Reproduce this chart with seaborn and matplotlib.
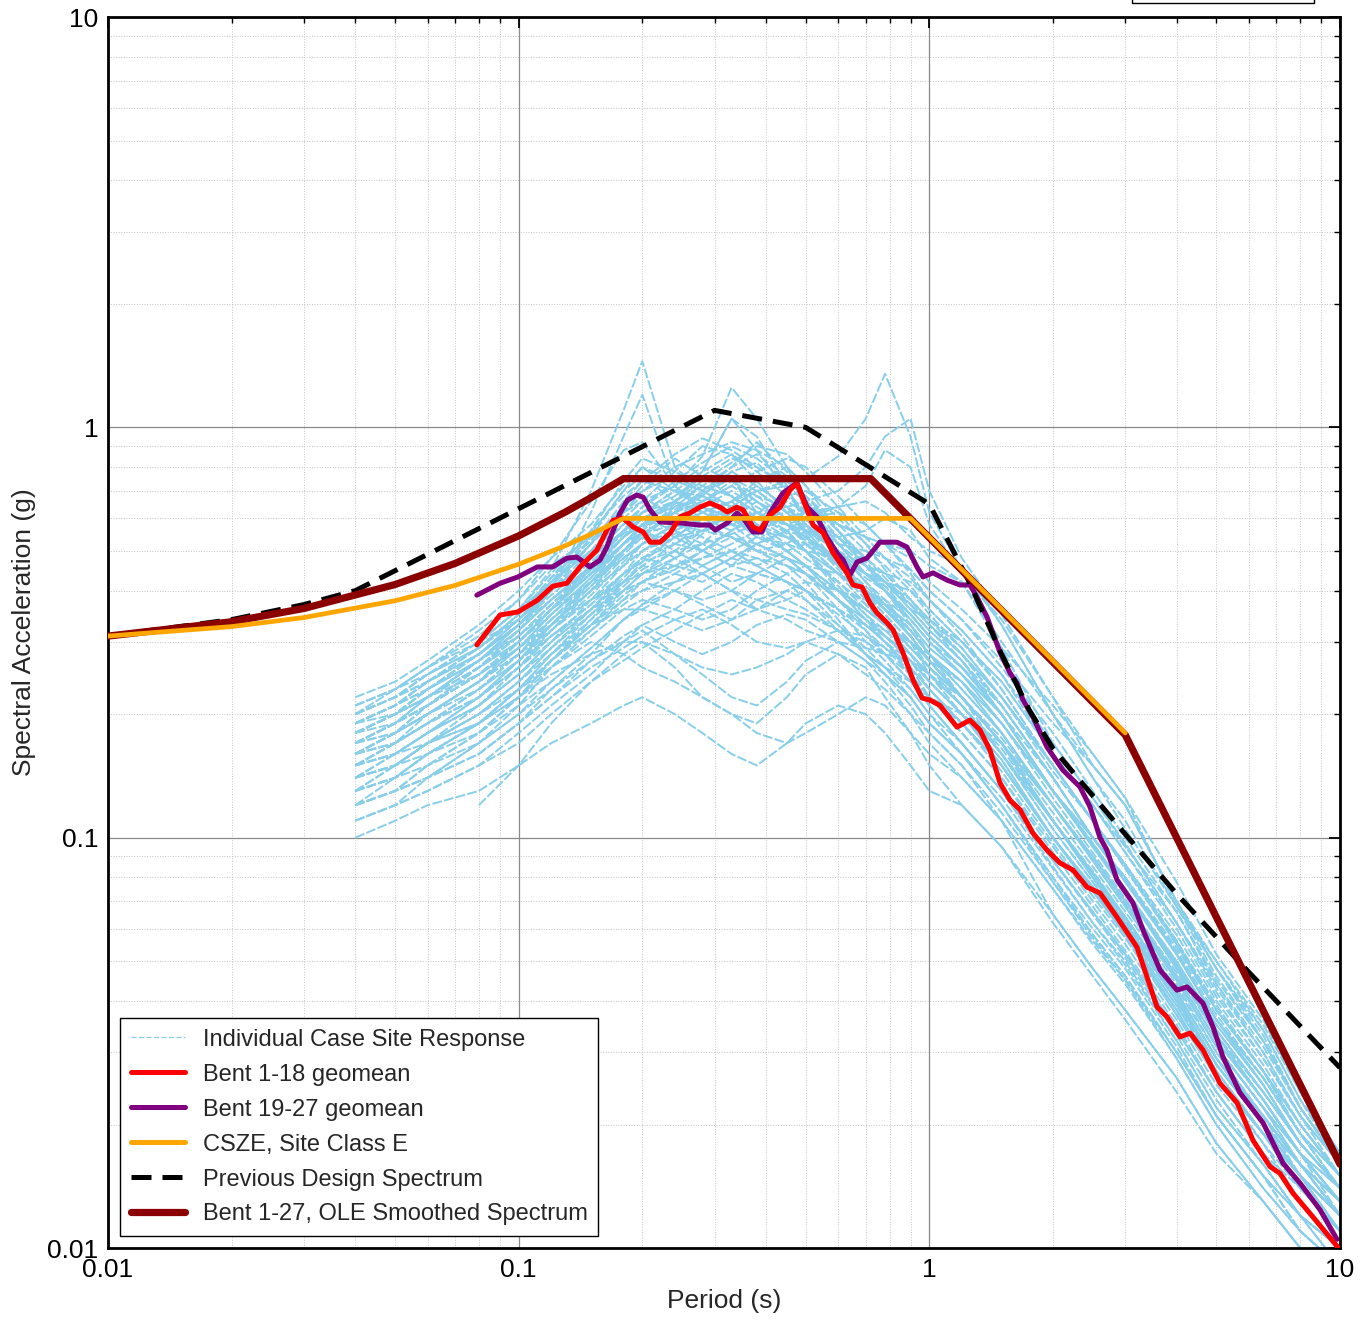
import numpy as np
import pandas as pd
import matplotlib
matplotlib.use("Agg")
import matplotlib.pyplot as plt
from matplotlib.lines import Line2D
from matplotlib.patches import Rectangle
from matplotlib.ticker import LogLocator, NullFormatter
import seaborn as sns

sns.set_theme(style="white")
plt.rcParams["font.family"] = ["Liberation Sans", "DejaVu Sans"]

# ---------------------------------------------------------------- data
nan = np.nan

# periods shared by the individual site-response cases (s)
case_periods = [0.04, 0.05, 0.06, 0.08, 0.1, 0.12, 0.15, 0.18, 0.2, 0.24,
                0.28, 0.33, 0.38, 0.45, 0.5, 0.6, 0.7, 0.78, 0.9, 1.0,
                1.2, 1.5, 2.0, 2.5, 3.0, 4.0, 5.0, 6.5, 8.0, 10.0]

case_01 = [0.20, 0.22, 0.25, 0.30, 0.36, 0.45, 0.70, 1.10, 1.45, 0.80, 0.70, 0.75, 0.62, 0.55, 0.50, 0.42, 0.36, 0.33, 0.28, 0.24, 0.20, 0.15, 0.10, 0.075, 0.058, 0.038, 0.026, 0.019, 0.015, 0.012]
case_02 = [0.16, 0.18, 0.21, 0.26, 0.32, 0.40, 0.62, 0.95, 1.20, 0.72, 0.62, 0.66, 0.58, 0.50, 0.46, 0.38, 0.33, 0.30, 0.25, 0.21, 0.17, 0.13, 0.088, 0.066, 0.052, 0.034, 0.024, 0.017, 0.014, 0.011]
case_03 = [0.19, 0.21, 0.24, 0.29, 0.35, 0.42, 0.50, 0.60, 0.66, 0.72, 0.85, 1.25, 1.05, 0.80, 0.65, 0.52, 0.44, 0.40, 0.33, 0.28, 0.22, 0.17, 0.11, 0.082, 0.064, 0.042, 0.029, 0.021, 0.016, 0.013]
case_04 = [0.15, 0.17, 0.19, 0.23, 0.28, 0.34, 0.42, 0.52, 0.58, 0.65, 0.78, 1.05, 0.95, 0.72, 0.58, 0.46, 0.39, 0.35, 0.30, 0.25, 0.20, 0.15, 0.10, 0.075, 0.058, 0.037, 0.026, 0.019, 0.015, 0.012]
case_05 = [0.18, 0.20, 0.23, 0.28, 0.33, 0.38, 0.45, 0.52, 0.55, 0.58, 0.62, 0.66, 0.70, 0.72, 0.75, 0.85, 1.05, 1.35, 0.95, 0.62, 0.45, 0.33, 0.20, 0.14, 0.11, 0.068, 0.048, 0.033, 0.022, 0.016]
case_06 = [0.16, 0.18, 0.20, 0.24, 0.28, 0.33, 0.40, 0.46, 0.50, 0.55, 0.58, 0.60, 0.62, 0.64, 0.66, 0.70, 0.80, 0.95, 1.05, 0.70, 0.48, 0.35, 0.22, 0.15, 0.12, 0.070, 0.050, 0.034, 0.023, 0.017]
case_07 = [0.10, 0.11, 0.12, 0.13, 0.15, 0.17, 0.19, 0.21, 0.22, 0.20, 0.18, 0.16, 0.15, 0.17, 0.19, 0.21, 0.20, 0.18, 0.15, 0.13, 0.12, 0.095, 0.062, 0.046, 0.036, 0.024, 0.017, 0.013, 0.010, 0.008]
case_08 = [0.12, 0.13, 0.14, 0.16, 0.19, 0.22, 0.27, 0.30, 0.32, 0.28, 0.25, 0.22, 0.21, 0.24, 0.27, 0.30, 0.27, 0.24, 0.20, 0.17, 0.14, 0.11, 0.075, 0.056, 0.045, 0.030, 0.021, 0.015, 0.012, 0.010]
case_09 = [0.17, 0.19, 0.21, 0.25, 0.29, 0.33, 0.38, 0.42, 0.44, 0.46, 0.48, 0.50, 0.48, 0.46, 0.44, 0.38, 0.33, 0.30, 0.26, 0.23, 0.19, 0.15, 0.10, 0.075, 0.060, 0.040, 0.028, 0.020, 0.016, 0.013]
case_10 = [0.20, 0.22, 0.25, 0.30, 0.36, 0.42, 0.50, 0.58, 0.62, 0.66, 0.60, 0.64, 0.70, 0.62, 0.55, 0.45, 0.38, 0.34, 0.29, 0.26, 0.22, 0.17, 0.12, 0.090, 0.070, 0.046, 0.032, 0.023, 0.017, 0.014]
case_11 = [0.14, 0.16, 0.18, 0.22, 0.26, 0.31, 0.37, 0.44, 0.48, 0.52, 0.56, 0.54, 0.50, 0.52, 0.56, 0.50, 0.42, 0.37, 0.31, 0.27, 0.22, 0.16, 0.11, 0.080, 0.062, 0.040, 0.027, 0.019, 0.015, 0.012]
case_12 = [0.22, 0.24, 0.27, 0.33, 0.40, 0.48, 0.58, 0.72, 0.80, 0.70, 0.68, 0.78, 0.82, 0.70, 0.62, 0.50, 0.42, 0.38, 0.32, 0.28, 0.23, 0.18, 0.12, 0.090, 0.070, 0.045, 0.031, 0.022, 0.017, 0.014]
case_13 = [0.17, 0.19, 0.22, 0.27, 0.31, 0.36, 0.42, 0.48, 0.52, 0.56, 0.60, 0.62, 0.60, 0.58, 0.56, 0.52, 0.50, 0.48, 0.45, 0.40, 0.34, 0.27, 0.19, 0.15, 0.12, 0.070, 0.048, 0.032, 0.022, 0.016]
case_14 = [0.13, 0.15, 0.17, 0.20, 0.24, 0.28, 0.33, 0.38, 0.40, 0.42, 0.44, 0.40, 0.36, 0.38, 0.40, 0.36, 0.32, 0.28, 0.24, 0.21, 0.17, 0.13, 0.085, 0.062, 0.050, 0.032, 0.022, 0.016, 0.012, 0.010]
case_15 = [0.19, 0.21, 0.23, 0.27, 0.32, 0.38, 0.46, 0.54, 0.58, 0.62, 0.66, 0.72, 0.66, 0.60, 0.52, 0.44, 0.40, 0.38, 0.34, 0.30, 0.25, 0.19, 0.13, 0.095, 0.074, 0.050, 0.035, 0.025, 0.018, 0.014]
case_16 = [nan, nan, nan, 0.12, 0.15, 0.19, 0.24, 0.28, 0.30, 0.26, 0.22, 0.20, 0.19, 0.22, 0.25, 0.28, 0.26, 0.22, 0.18, 0.15, 0.12, 0.095, 0.065, 0.048, 0.038, 0.026, 0.018, 0.013, 0.010, 0.008]
case_17 = [0.18, 0.20, 0.22, 0.26, 0.30, 0.36, 0.44, 0.52, 0.56, 0.52, 0.50, 0.56, 0.60, 0.66, 0.62, 0.54, 0.46, 0.40, 0.34, 0.30, 0.26, 0.21, 0.14, 0.10, 0.078, 0.052, 0.036, 0.025, 0.018, 0.014]
case_18 = [0.15, 0.17, 0.19, 0.23, 0.27, 0.33, 0.40, 0.48, 0.52, 0.58, 0.62, 0.58, 0.52, 0.48, 0.44, 0.36, 0.30, 0.27, 0.23, 0.20, 0.16, 0.12, 0.080, 0.060, 0.048, 0.031, 0.021, 0.015, 0.012, 0.009]
case_19 = [0.21, 0.23, 0.26, 0.31, 0.38, 0.48, 0.66, 0.88, 0.92, 0.72, 0.64, 0.60, 0.55, 0.50, 0.46, 0.40, 0.35, 0.32, 0.28, 0.25, 0.21, 0.16, 0.11, 0.080, 0.062, 0.041, 0.028, 0.020, 0.016, 0.012]
case_20 = [0.11, 0.12, 0.14, 0.17, 0.21, 0.26, 0.32, 0.38, 0.42, 0.48, 0.55, 0.62, 0.68, 0.60, 0.54, 0.46, 0.40, 0.36, 0.32, 0.28, 0.24, 0.18, 0.12, 0.088, 0.068, 0.045, 0.031, 0.022, 0.016, 0.013]
case_21 = [0.16, 0.18, 0.20, 0.24, 0.28, 0.32, 0.38, 0.44, 0.47, 0.50, 0.52, 0.55, 0.58, 0.60, 0.62, 0.64, 0.72, 0.88, 0.80, 0.58, 0.44, 0.34, 0.22, 0.16, 0.125, 0.078, 0.052, 0.036, 0.024, 0.017]
case_22 = [0.18, 0.20, 0.23, 0.28, 0.33, 0.40, 0.48, 0.56, 0.60, 0.58, 0.56, 0.58, 0.60, 0.62, 0.64, 0.58, 0.54, 0.52, 0.50, 0.46, 0.42, 0.30, 0.20, 0.15, 0.12, 0.070, 0.048, 0.034, 0.023, 0.016]
case_23 = [0.13, 0.14, 0.16, 0.19, 0.23, 0.28, 0.34, 0.40, 0.44, 0.50, 0.46, 0.42, 0.44, 0.48, 0.46, 0.40, 0.36, 0.33, 0.30, 0.27, 0.22, 0.17, 0.11, 0.080, 0.064, 0.043, 0.030, 0.021, 0.016, 0.012]
case_24 = [0.14, 0.15, 0.17, 0.20, 0.23, 0.26, 0.30, 0.28, 0.26, 0.24, 0.22, 0.20, 0.18, 0.17, 0.18, 0.20, 0.22, 0.21, 0.18, 0.16, 0.14, 0.11, 0.075, 0.055, 0.044, 0.029, 0.020, 0.014, 0.011, 0.009]
case_25 = [0.20, 0.23, 0.26, 0.32, 0.38, 0.46, 0.54, 0.62, 0.66, 0.78, 0.90, 0.86, 0.74, 0.62, 0.56, 0.46, 0.40, 0.36, 0.31, 0.27, 0.22, 0.17, 0.11, 0.082, 0.064, 0.042, 0.029, 0.021, 0.016, 0.013]
case_26 = [nan, nan, nan, 0.30, 0.34, 0.40, 0.48, 0.56, 0.60, 0.64, 0.68, 0.64, 0.58, 0.54, 0.50, 0.44, 0.40, 0.37, 0.33, 0.29, 0.25, 0.20, 0.13, 0.10, 0.078, 0.052, 0.036, 0.026, 0.019, 0.015]
case_27 = [0.16, 0.18, 0.20, 0.24, 0.28, 0.33, 0.40, 0.46, 0.50, 0.54, 0.56, 0.58, 0.56, 0.54, 0.52, 0.48, 0.44, 0.42, 0.40, 0.36, 0.30, 0.24, 0.16, 0.12, 0.095, 0.066, 0.044, 0.030, 0.021, 0.015]
case_28 = [0.12, 0.13, 0.15, 0.18, 0.22, 0.27, 0.33, 0.36, 0.36, 0.34, 0.32, 0.34, 0.38, 0.40, 0.38, 0.33, 0.29, 0.26, 0.22, 0.19, 0.16, 0.12, 0.080, 0.058, 0.046, 0.030, 0.021, 0.015, 0.011, 0.009]
case_29 = [0.17, 0.19, 0.21, 0.25, 0.30, 0.36, 0.44, 0.52, 0.58, 0.66, 0.78, 1.05, 0.88, 0.70, 0.60, 0.48, 0.40, 0.36, 0.31, 0.27, 0.22, 0.17, 0.11, 0.082, 0.063, 0.041, 0.028, 0.020, 0.016, 0.012]
case_30 = [0.15, 0.16, 0.18, 0.21, 0.25, 0.30, 0.36, 0.42, 0.46, 0.44, 0.42, 0.46, 0.52, 0.56, 0.50, 0.40, 0.34, 0.30, 0.26, 0.22, 0.18, 0.14, 0.095, 0.070, 0.055, 0.036, 0.025, 0.018, 0.014, 0.011]
case_31 = [0.18, 0.19, 0.22, 0.27, 0.33, 0.40, 0.52, 0.62, 0.68, 0.60, 0.66, 0.74, 0.66, 0.58, 0.52, 0.44, 0.37, 0.33, 0.28, 0.25, 0.21, 0.16, 0.105, 0.078, 0.061, 0.040, 0.028, 0.020, 0.015, 0.012]
case_32 = [0.15, 0.17, 0.20, 0.24, 0.30, 0.36, 0.46, 0.56, 0.62, 0.70, 0.64, 0.58, 0.62, 0.56, 0.50, 0.41, 0.35, 0.31, 0.27, 0.23, 0.19, 0.145, 0.097, 0.072, 0.057, 0.037, 0.026, 0.019, 0.014, 0.011]
case_33 = [0.19, 0.21, 0.24, 0.28, 0.33, 0.39, 0.47, 0.55, 0.60, 0.56, 0.52, 0.60, 0.66, 0.58, 0.53, 0.47, 0.41, 0.37, 0.32, 0.28, 0.23, 0.18, 0.12, 0.088, 0.068, 0.045, 0.031, 0.022, 0.017, 0.013]
case_34 = [0.14, 0.16, 0.18, 0.21, 0.25, 0.30, 0.38, 0.46, 0.52, 0.58, 0.54, 0.50, 0.46, 0.42, 0.40, 0.35, 0.31, 0.28, 0.24, 0.21, 0.17, 0.13, 0.088, 0.066, 0.052, 0.034, 0.024, 0.017, 0.013, 0.010]
case_35 = [0.16, 0.18, 0.21, 0.26, 0.31, 0.37, 0.44, 0.50, 0.56, 0.64, 0.72, 0.68, 0.60, 0.56, 0.54, 0.48, 0.43, 0.40, 0.35, 0.31, 0.26, 0.20, 0.13, 0.095, 0.074, 0.048, 0.033, 0.024, 0.018, 0.014]
case_36 = [0.13, 0.15, 0.17, 0.20, 0.24, 0.29, 0.35, 0.41, 0.45, 0.50, 0.56, 0.62, 0.58, 0.52, 0.48, 0.42, 0.37, 0.34, 0.29, 0.26, 0.21, 0.16, 0.11, 0.080, 0.062, 0.041, 0.028, 0.020, 0.015, 0.012]
case_37 = [0.20, 0.22, 0.24, 0.28, 0.34, 0.42, 0.55, 0.70, 0.76, 0.66, 0.58, 0.54, 0.50, 0.48, 0.46, 0.40, 0.34, 0.31, 0.27, 0.24, 0.20, 0.155, 0.10, 0.076, 0.059, 0.039, 0.027, 0.019, 0.015, 0.011]
case_38 = [0.17, 0.18, 0.20, 0.23, 0.27, 0.31, 0.36, 0.40, 0.42, 0.45, 0.50, 0.56, 0.62, 0.68, 0.70, 0.62, 0.52, 0.45, 0.38, 0.33, 0.27, 0.20, 0.13, 0.096, 0.075, 0.049, 0.034, 0.024, 0.018, 0.014]
case_39 = [0.12, 0.14, 0.16, 0.19, 0.23, 0.28, 0.35, 0.42, 0.47, 0.54, 0.60, 0.66, 0.72, 0.64, 0.56, 0.46, 0.39, 0.35, 0.30, 0.26, 0.22, 0.17, 0.11, 0.082, 0.064, 0.042, 0.029, 0.021, 0.016, 0.012]
case_40 = [0.19, 0.20, 0.22, 0.25, 0.29, 0.34, 0.41, 0.49, 0.54, 0.62, 0.70, 0.80, 0.92, 0.78, 0.66, 0.52, 0.44, 0.40, 0.34, 0.30, 0.25, 0.19, 0.125, 0.092, 0.071, 0.046, 0.032, 0.023, 0.017, 0.013]
case_41 = [0.14, 0.15, 0.17, 0.21, 0.26, 0.32, 0.40, 0.50, 0.56, 0.50, 0.46, 0.50, 0.54, 0.50, 0.46, 0.40, 0.36, 0.33, 0.29, 0.26, 0.22, 0.175, 0.12, 0.088, 0.069, 0.046, 0.032, 0.023, 0.017, 0.013]
case_42 = [0.18, 0.20, 0.23, 0.27, 0.32, 0.38, 0.46, 0.54, 0.58, 0.62, 0.58, 0.54, 0.52, 0.56, 0.60, 0.62, 0.58, 0.52, 0.44, 0.38, 0.31, 0.23, 0.15, 0.11, 0.086, 0.056, 0.039, 0.027, 0.020, 0.015]
case_43 = [0.16, 0.17, 0.19, 0.22, 0.27, 0.33, 0.42, 0.50, 0.54, 0.48, 0.44, 0.40, 0.38, 0.36, 0.35, 0.32, 0.30, 0.28, 0.25, 0.22, 0.19, 0.15, 0.10, 0.074, 0.058, 0.038, 0.026, 0.019, 0.014, 0.011]
case_44 = [0.21, 0.23, 0.25, 0.29, 0.34, 0.40, 0.48, 0.58, 0.64, 0.72, 0.80, 0.74, 0.68, 0.64, 0.60, 0.52, 0.46, 0.42, 0.37, 0.33, 0.28, 0.21, 0.14, 0.10, 0.079, 0.052, 0.036, 0.026, 0.019, 0.015]
case_45 = [0.11, 0.12, 0.13, 0.15, 0.18, 0.21, 0.25, 0.30, 0.33, 0.36, 0.40, 0.44, 0.42, 0.38, 0.36, 0.32, 0.28, 0.26, 0.23, 0.20, 0.17, 0.13, 0.088, 0.065, 0.051, 0.033, 0.023, 0.016, 0.012, 0.010]
case_46 = [0.17, 0.19, 0.21, 0.25, 0.30, 0.35, 0.42, 0.48, 0.52, 0.58, 0.64, 0.70, 0.64, 0.58, 0.56, 0.54, 0.56, 0.60, 0.56, 0.48, 0.42, 0.29, 0.17, 0.125, 0.097, 0.062, 0.042, 0.029, 0.021, 0.016]
case_47 = [0.15, 0.17, 0.19, 0.23, 0.28, 0.34, 0.42, 0.50, 0.55, 0.62, 0.68, 0.62, 0.56, 0.50, 0.46, 0.38, 0.32, 0.29, 0.25, 0.22, 0.18, 0.14, 0.092, 0.068, 0.053, 0.035, 0.024, 0.017, 0.013, 0.010]
case_48 = [0.19, 0.21, 0.24, 0.29, 0.35, 0.43, 0.53, 0.64, 0.70, 0.76, 0.70, 0.64, 0.70, 0.74, 0.68, 0.56, 0.47, 0.42, 0.36, 0.32, 0.27, 0.20, 0.13, 0.097, 0.075, 0.049, 0.034, 0.024, 0.018, 0.014]
case_49 = [0.13, 0.14, 0.16, 0.19, 0.23, 0.27, 0.32, 0.37, 0.40, 0.44, 0.48, 0.52, 0.56, 0.60, 0.58, 0.50, 0.44, 0.40, 0.35, 0.31, 0.26, 0.20, 0.13, 0.095, 0.074, 0.048, 0.033, 0.023, 0.017, 0.013]
case_50 = [0.18, 0.20, 0.22, 0.26, 0.31, 0.37, 0.45, 0.54, 0.60, 0.66, 0.62, 0.66, 0.74, 0.80, 0.72, 0.56, 0.46, 0.41, 0.35, 0.31, 0.26, 0.20, 0.13, 0.096, 0.074, 0.048, 0.033, 0.023, 0.017, 0.013]
case_51 = [0.16, 0.17, 0.19, 0.22, 0.26, 0.30, 0.36, 0.43, 0.48, 0.46, 0.44, 0.48, 0.52, 0.48, 0.44, 0.38, 0.34, 0.32, 0.30, 0.28, 0.24, 0.19, 0.13, 0.096, 0.075, 0.050, 0.035, 0.025, 0.018, 0.014]
case_52 = [0.20, 0.22, 0.25, 0.29, 0.35, 0.42, 0.52, 0.64, 0.72, 0.84, 0.76, 0.68, 0.62, 0.58, 0.54, 0.46, 0.40, 0.36, 0.31, 0.27, 0.22, 0.17, 0.11, 0.083, 0.064, 0.042, 0.029, 0.021, 0.016, 0.012]
case_53 = [0.12, 0.13, 0.15, 0.18, 0.22, 0.27, 0.33, 0.40, 0.44, 0.48, 0.52, 0.48, 0.46, 0.50, 0.52, 0.46, 0.40, 0.36, 0.31, 0.27, 0.22, 0.17, 0.11, 0.082, 0.064, 0.042, 0.029, 0.020, 0.015, 0.012]
case_54 = [0.17, 0.19, 0.21, 0.25, 0.30, 0.36, 0.44, 0.52, 0.57, 0.63, 0.69, 0.75, 0.70, 0.62, 0.57, 0.50, 0.46, 0.44, 0.42, 0.38, 0.32, 0.25, 0.16, 0.12, 0.092, 0.060, 0.041, 0.029, 0.021, 0.016]
case_55 = [0.14, 0.15, 0.17, 0.20, 0.24, 0.29, 0.36, 0.44, 0.50, 0.56, 0.50, 0.46, 0.48, 0.44, 0.40, 0.33, 0.28, 0.25, 0.22, 0.19, 0.16, 0.125, 0.084, 0.062, 0.049, 0.032, 0.022, 0.016, 0.012, 0.009]
case_56 = [0.19, 0.21, 0.23, 0.27, 0.32, 0.38, 0.46, 0.56, 0.62, 0.70, 0.78, 0.86, 0.78, 0.68, 0.62, 0.54, 0.48, 0.44, 0.38, 0.34, 0.28, 0.21, 0.14, 0.10, 0.080, 0.052, 0.036, 0.026, 0.019, 0.015]
case_57 = [0.15, 0.16, 0.18, 0.22, 0.27, 0.32, 0.39, 0.47, 0.52, 0.58, 0.64, 0.60, 0.54, 0.52, 0.50, 0.48, 0.44, 0.42, 0.38, 0.34, 0.29, 0.22, 0.145, 0.11, 0.084, 0.055, 0.038, 0.027, 0.020, 0.015]
case_58 = [0.17, 0.18, 0.20, 0.24, 0.29, 0.35, 0.43, 0.52, 0.58, 0.54, 0.50, 0.46, 0.44, 0.42, 0.40, 0.36, 0.33, 0.30, 0.27, 0.24, 0.20, 0.155, 0.10, 0.076, 0.059, 0.039, 0.027, 0.019, 0.014, 0.011]
case_59 = [nan, nan, nan, 0.22, 0.27, 0.33, 0.41, 0.50, 0.55, 0.62, 0.70, 0.78, 0.72, 0.64, 0.58, 0.50, 0.44, 0.40, 0.35, 0.31, 0.26, 0.20, 0.13, 0.097, 0.075, 0.049, 0.034, 0.024, 0.018, 0.014]
case_60 = [nan, nan, nan, 0.18, 0.22, 0.27, 0.34, 0.42, 0.46, 0.52, 0.58, 0.64, 0.60, 0.54, 0.50, 0.44, 0.39, 0.36, 0.32, 0.28, 0.24, 0.18, 0.12, 0.088, 0.068, 0.045, 0.031, 0.022, 0.016, 0.013]
case_61 = [0.13, 0.14, 0.15, 0.17, 0.20, 0.23, 0.27, 0.31, 0.33, 0.30, 0.28, 0.30, 0.33, 0.35, 0.34, 0.30, 0.27, 0.25, 0.22, 0.19, 0.16, 0.12, 0.078, 0.057, 0.045, 0.029, 0.020, 0.014, 0.011, 0.009]
case_62 = [0.18, 0.20, 0.23, 0.28, 0.34, 0.41, 0.52, 0.66, 0.74, 0.86, 0.94, 0.88, 0.80, 0.72, 0.66, 0.56, 0.48, 0.43, 0.37, 0.33, 0.28, 0.22, 0.15, 0.11, 0.086, 0.058, 0.040, 0.028, 0.020, 0.015]
case_63 = [0.12, 0.13, 0.14, 0.16, 0.19, 0.22, 0.26, 0.29, 0.31, 0.34, 0.36, 0.33, 0.30, 0.29, 0.30, 0.28, 0.25, 0.23, 0.20, 0.18, 0.15, 0.11, 0.065, 0.048, 0.038, 0.026, 0.018, 0.013, 0.010, 0.008]
case_64 = [0.17, 0.19, 0.22, 0.27, 0.33, 0.41, 0.54, 0.70, 0.80, 0.74, 0.82, 0.90, 0.84, 0.74, 0.68, 0.58, 0.50, 0.46, 0.40, 0.35, 0.29, 0.22, 0.15, 0.11, 0.085, 0.056, 0.038, 0.027, 0.020, 0.015]
case_65 = [0.14, 0.15, 0.16, 0.18, 0.21, 0.24, 0.29, 0.34, 0.37, 0.40, 0.37, 0.34, 0.36, 0.40, 0.42, 0.40, 0.36, 0.33, 0.30, 0.27, 0.24, 0.19, 0.13, 0.10, 0.080, 0.054, 0.038, 0.027, 0.019, 0.014]
case_66 = [0.16, 0.18, 0.20, 0.24, 0.29, 0.35, 0.43, 0.52, 0.58, 0.66, 0.74, 0.82, 0.90, 0.86, 0.78, 0.64, 0.54, 0.48, 0.41, 0.36, 0.30, 0.23, 0.15, 0.11, 0.085, 0.055, 0.038, 0.027, 0.019, 0.014]
case_67 = [0.15, 0.16, 0.17, 0.19, 0.22, 0.25, 0.28, 0.30, 0.30, 0.28, 0.26, 0.25, 0.26, 0.28, 0.30, 0.32, 0.31, 0.29, 0.26, 0.23, 0.19, 0.15, 0.10, 0.074, 0.058, 0.038, 0.026, 0.018, 0.013, 0.010]
case_68 = [0.20, 0.22, 0.24, 0.28, 0.33, 0.40, 0.50, 0.62, 0.70, 0.80, 0.86, 0.92, 0.88, 0.80, 0.72, 0.60, 0.52, 0.48, 0.43, 0.38, 0.32, 0.25, 0.17, 0.125, 0.096, 0.062, 0.043, 0.030, 0.021, 0.016]
case_69 = [0.11, 0.12, 0.13, 0.15, 0.17, 0.20, 0.24, 0.27, 0.29, 0.32, 0.35, 0.38, 0.36, 0.34, 0.32, 0.30, 0.29, 0.28, 0.27, 0.25, 0.22, 0.17, 0.115, 0.085, 0.066, 0.044, 0.030, 0.021, 0.015, 0.011]
case_70 = [0.17, 0.19, 0.21, 0.25, 0.30, 0.36, 0.45, 0.56, 0.64, 0.74, 0.70, 0.64, 0.60, 0.58, 0.60, 0.64, 0.66, 0.62, 0.54, 0.50, 0.46, 0.33, 0.20, 0.14, 0.105, 0.068, 0.046, 0.032, 0.022, 0.016]
case_71 = [0.14, 0.15, 0.17, 0.19, 0.22, 0.26, 0.31, 0.36, 0.38, 0.36, 0.34, 0.36, 0.40, 0.44, 0.46, 0.44, 0.40, 0.37, 0.33, 0.29, 0.25, 0.20, 0.14, 0.10, 0.080, 0.053, 0.037, 0.026, 0.019, 0.014]
case_72 = [0.19, 0.21, 0.24, 0.29, 0.35, 0.43, 0.56, 0.74, 0.84, 0.78, 0.72, 0.80, 0.86, 0.76, 0.66, 0.54, 0.46, 0.42, 0.36, 0.32, 0.27, 0.21, 0.14, 0.10, 0.080, 0.052, 0.036, 0.025, 0.018, 0.014]
case_73 = [0.13, 0.14, 0.16, 0.19, 0.23, 0.27, 0.33, 0.39, 0.42, 0.46, 0.50, 0.54, 0.50, 0.46, 0.44, 0.40, 0.38, 0.37, 0.36, 0.34, 0.30, 0.24, 0.16, 0.12, 0.092, 0.062, 0.044, 0.031, 0.022, 0.016]
case_74 = [0.16, 0.17, 0.19, 0.22, 0.26, 0.31, 0.37, 0.44, 0.48, 0.54, 0.60, 0.56, 0.50, 0.46, 0.42, 0.34, 0.28, 0.25, 0.21, 0.18, 0.15, 0.115, 0.078, 0.058, 0.046, 0.030, 0.021, 0.015, 0.011, 0.009]
case_75 = [0.18, 0.20, 0.22, 0.26, 0.31, 0.37, 0.46, 0.56, 0.62, 0.68, 0.76, 0.84, 0.80, 0.72, 0.66, 0.58, 0.54, 0.52, 0.48, 0.42, 0.36, 0.29, 0.21, 0.16, 0.125, 0.068, 0.050, 0.035, 0.024, 0.017]
case_76 = [0.12, 0.13, 0.14, 0.17, 0.20, 0.24, 0.29, 0.34, 0.36, 0.40, 0.44, 0.48, 0.52, 0.48, 0.44, 0.38, 0.34, 0.31, 0.28, 0.25, 0.21, 0.16, 0.105, 0.078, 0.061, 0.040, 0.028, 0.020, 0.014, 0.011]
case_77 = [0.21, 0.23, 0.26, 0.30, 0.36, 0.44, 0.56, 0.68, 0.74, 0.70, 0.66, 0.72, 0.78, 0.84, 0.80, 0.68, 0.58, 0.52, 0.45, 0.40, 0.34, 0.26, 0.18, 0.13, 0.10, 0.066, 0.045, 0.032, 0.022, 0.016]
case_78 = [0.15, 0.16, 0.18, 0.21, 0.25, 0.29, 0.35, 0.40, 0.42, 0.40, 0.38, 0.40, 0.44, 0.42, 0.38, 0.32, 0.28, 0.26, 0.24, 0.22, 0.20, 0.17, 0.12, 0.090, 0.070, 0.047, 0.033, 0.023, 0.017, 0.012]
case_79 = [nan, nan, nan, 0.16, 0.19, 0.23, 0.28, 0.34, 0.37, 0.42, 0.46, 0.50, 0.46, 0.42, 0.40, 0.36, 0.33, 0.31, 0.28, 0.25, 0.21, 0.165, 0.11, 0.082, 0.064, 0.042, 0.029, 0.020, 0.015, 0.011]
case_80 = [nan, nan, nan, 0.26, 0.30, 0.36, 0.44, 0.54, 0.60, 0.66, 0.72, 0.68, 0.62, 0.58, 0.54, 0.48, 0.44, 0.41, 0.37, 0.33, 0.28, 0.22, 0.15, 0.11, 0.086, 0.056, 0.039, 0.027, 0.020, 0.015]

cases = [case_01, case_02, case_03, case_04, case_05, case_06, case_07, case_08,
         case_09, case_10, case_11, case_12, case_13, case_14, case_15, case_16,
         case_17, case_18, case_19, case_20, case_21, case_22, case_23, case_24,
         case_25, case_26, case_27, case_28, case_29, case_30, case_31, case_32,
         case_33, case_34, case_35, case_36, case_37, case_38, case_39, case_40,
         case_41, case_42, case_43, case_44, case_45, case_46, case_47, case_48,
         case_49, case_50, case_51, case_52, case_53, case_54, case_55, case_56,
         case_57, case_58, case_59, case_60, case_61, case_62, case_63, case_64,
         case_65, case_66, case_67, case_68, case_69, case_70, case_71, case_72,
         case_73, case_74, case_75, case_76, case_77, case_78, case_79, case_80]

# Bent 1-18 geometric mean
bent1_period = [0.0791, 0.0901, 0.0996, 0.111, 0.121, 0.131, 0.141, 0.155, 0.164, 0.170,
                0.1795, 0.190, 0.201, 0.209, 0.221, 0.234, 0.247, 0.261, 0.276, 0.292,
                0.309, 0.322, 0.340, 0.352, 0.372, 0.387, 0.409, 0.433, 0.458, 0.476,
                0.493, 0.521, 0.551, 0.583, 0.630, 0.652, 0.686, 0.717, 0.746, 0.789,
                0.816, 0.863, 0.913, 0.960, 1.004, 1.062, 1.168, 1.256, 1.328, 1.405,
                1.486, 1.572, 1.663, 1.788, 1.934, 2.080, 2.238, 2.420, 2.604, 2.864,
                3.204, 3.584, 3.790, 4.078, 4.313, 4.638, 5.103, 5.614, 6.140, 6.753,
                7.143, 7.684, 8.596, 9.454, 10.0]
bent1_sa = [0.295, 0.349, 0.355, 0.379, 0.410, 0.417, 0.457, 0.502, 0.562, 0.594,
            0.601, 0.572, 0.556, 0.525, 0.525, 0.553, 0.605, 0.618, 0.639, 0.654,
            0.639, 0.622, 0.639, 0.629, 0.572, 0.562, 0.611, 0.639, 0.704, 0.732,
            0.665, 0.578, 0.553, 0.494, 0.442, 0.413, 0.408, 0.373, 0.353, 0.334,
            0.321, 0.282, 0.242, 0.219, 0.2165, 0.210, 0.186, 0.1935, 0.183, 0.1635,
            0.136, 0.1235, 0.117, 0.1026, 0.0933, 0.0868, 0.0834, 0.0758, 0.0733, 0.064,
            0.0541, 0.0387, 0.0366, 0.0327, 0.0334, 0.0304, 0.0252, 0.0226, 0.0183, 0.0158,
            0.0152, 0.0136, 0.0119, 0.0106, 0.0099]

# Bent 19-27 geometric mean
bent19_period = [0.0791, 0.0901, 0.0996, 0.111, 0.121, 0.131, 0.1387, 0.149, 0.1578, 0.164,
                 0.170, 0.1765, 0.184, 0.194, 0.201, 0.209, 0.221, 0.247, 0.276, 0.292,
                 0.301, 0.322, 0.340, 0.352, 0.372, 0.391, 0.409, 0.440, 0.476, 0.504,
                 0.533, 0.563, 0.596, 0.617, 0.641, 0.667, 0.705, 0.758, 0.834, 0.882,
                 0.933, 0.965, 1.021, 1.104, 1.188, 1.256, 1.306, 1.382, 1.486, 1.572,
                 1.635, 1.691, 1.788, 1.934, 2.116, 2.327, 2.461, 2.604, 2.707, 2.864,
                 3.133, 3.313, 3.645, 4.010, 4.241, 4.638, 4.906, 5.189, 5.707, 6.494,
                 7.264, 7.991, 8.940, 9.833]
bent19_sa = [0.390, 0.417, 0.432, 0.457, 0.457, 0.480, 0.483, 0.457, 0.475, 0.511,
             0.562, 0.618, 0.665, 0.684, 0.676, 0.629, 0.588, 0.585, 0.578, 0.578,
             0.562, 0.585, 0.618, 0.601, 0.556, 0.556, 0.618, 0.692, 0.732, 0.639,
             0.605, 0.540, 0.494, 0.475, 0.437, 0.470, 0.480, 0.525, 0.525, 0.511,
             0.457, 0.432, 0.442, 0.4245, 0.413, 0.413, 0.386, 0.345, 0.283, 0.252,
             0.238, 0.2165, 0.1968, 0.1663, 0.146, 0.133, 0.119, 0.100, 0.0933, 0.0789,
             0.0693, 0.0596, 0.0476, 0.0425, 0.0433, 0.0395, 0.0346, 0.0292, 0.0239, 0.0202,
             0.0161, 0.0144, 0.0124, 0.0105]

# CSZE design spectrum, Site Class E
csze_period = [0.01, 0.02, 0.03, 0.05, 0.07, 0.1, 0.13, 0.15, 0.18, 0.9, 3.0]
csze_sa = [0.31, 0.327, 0.344, 0.378, 0.412, 0.464, 0.515, 0.549, 0.60, 0.60, 0.18]

# previous design spectrum
prev_period = [0.01, 0.02, 0.03, 0.04, 0.3, 0.5, 1.0, 1.25, 1.5, 1.75, 2.0, 3.0, 4.0, 6.0, 10.0]
prev_sa = [0.31, 0.34, 0.37, 0.40, 1.10, 1.0, 0.65, 0.42, 0.28, 0.205, 0.165, 0.102, 0.073, 0.047, 0.0275]

# Bent 1-27 OLE smoothed spectrum
ole_period = [0.01, 0.02, 0.03, 0.05, 0.07, 0.1, 0.13, 0.15, 0.18, 0.72, 3.0, 10.0]
ole_sa = [0.31, 0.336, 0.362, 0.414, 0.466, 0.544, 0.622, 0.674, 0.75, 0.75, 0.178, 0.016]

tick_values = [0.01, 0.1, 1, 10]
tick_labels = ["0.01", "0.1", "1", "10"]

legend_labels = ["Individual Case Site Response", "Bent 1-18 geomean", "Bent 19-27 geomean",
                 "CSZE, Site Class E", "Previous Design Spectrum",
                 "Bent 1-27, OLE Smoothed Spectrum"]

# ---------------------------------------------------------------- frames
case_frames = []
for k, vals in enumerate(cases):
    case_frames.append(pd.DataFrame({"period": case_periods, "sa": vals, "case": k}))
df_cases = pd.concat(case_frames, ignore_index=True).dropna()

df_bent1 = pd.DataFrame({"period": bent1_period, "sa": bent1_sa})
df_bent19 = pd.DataFrame({"period": bent19_period, "sa": bent19_sa})
df_csze = pd.DataFrame({"period": csze_period, "sa": csze_sa})
df_prev = pd.DataFrame({"period": prev_period, "sa": prev_sa})
df_ole = pd.DataFrame({"period": ole_period, "sa": ole_sa})

# ---------------------------------------------------------------- figure
fig = plt.figure(figsize=(13.6, 13.2), dpi=100)
ax = fig.add_axes([0.0794, 0.0545, 0.9059, 0.9326])

c_case = "#87CEEB"
c_red = "#FF0000"
c_purple = "#800080"
c_orange = "#FFA500"
c_dark = "#8B0000"

sns.lineplot(data=df_cases, x="period", y="sa", units="case", estimator=None,
             sort=False, color=c_case, linewidth=1.4, linestyle=(0, (5, 1.2)),
             legend=False, ax=ax, zorder=1)
sns.lineplot(data=df_bent19, x="period", y="sa", sort=False, estimator=None,
             color=c_purple, linewidth=3.6, legend=False, ax=ax, zorder=2)
sns.lineplot(data=df_bent1, x="period", y="sa", sort=False, estimator=None,
             color=c_red, linewidth=3.6, legend=False, ax=ax, zorder=3)
sns.lineplot(data=df_prev, x="period", y="sa", sort=False, estimator=None,
             color="black", linewidth=3.6, linestyle=(0, (4, 2.2)),
             legend=False, ax=ax, zorder=4)
sns.lineplot(data=df_ole, x="period", y="sa", sort=False, estimator=None,
             color=c_dark, linewidth=5.2, legend=False, ax=ax, zorder=5)
sns.lineplot(data=df_csze, x="period", y="sa", sort=False, estimator=None,
             color=c_orange, linewidth=3.4, legend=False, ax=ax, zorder=6)

ax.set_xscale("log")
ax.set_yscale("log")
ax.set_xlim(0.01, 10)
ax.set_ylim(0.01, 10)

ax.set_xticks(tick_values, labels=tick_labels)
ax.set_yticks(tick_values, labels=tick_labels)
ax.xaxis.set_minor_locator(LogLocator(base=10, subs=np.arange(2, 10)))
ax.yaxis.set_minor_locator(LogLocator(base=10, subs=np.arange(2, 10)))
ax.xaxis.set_minor_formatter(NullFormatter())
ax.yaxis.set_minor_formatter(NullFormatter())

ax.grid(which="major", color="#8a8a8a", linewidth=0.9, linestyle="-", zorder=0)
ax.grid(which="minor", color="#c4c4c4", linewidth=0.7, linestyle=":", zorder=0)
ax.set_axisbelow(True)

ax.tick_params(which="both", direction="in", top=True, right=True, colors="black")
ax.tick_params(which="major", length=8, width=1.3, labelsize=19, pad=7)
ax.tick_params(which="minor", length=4, width=1.0)
for sp in ax.spines.values():
    sp.set_visible(True)
    sp.set_color("black")
    sp.set_linewidth(2.0)

ax.set_xlabel("Period (s)", fontsize=19, labelpad=5)
ax.set_ylabel("Spectral Acceleration (g)", fontsize=19, labelpad=8)

handles = [
    Line2D([], [], color=c_case, linewidth=0.9, linestyle=(0, (4, 2))),
    Line2D([], [], color=c_red, linewidth=3.6),
    Line2D([], [], color=c_purple, linewidth=3.6),
    Line2D([], [], color=c_orange, linewidth=3.6),
    Line2D([], [], color="black", linewidth=3.6, linestyle=(0, (4, 2.2))),
    Line2D([], [], color=c_dark, linewidth=5.2),
]
leg = ax.legend(handles, legend_labels, loc="lower left",
                bbox_to_anchor=(0.0097, 0.0097), borderaxespad=0,
                fontsize=17, frameon=True, fancybox=False, framealpha=1,
                edgecolor="black", handlelength=2.3, handletextpad=0.75,
                labelspacing=0.55, borderpad=0.45)
leg.get_frame().set_linewidth(1.0)
leg.set_zorder(10)

# text box frame at the top edge of the figure
fig.add_artist(Rectangle((0.8324, 0.998), 0.1335, 0.03, transform=fig.transFigure,
                         fill=False, edgecolor="black", linewidth=1.0))

fig.savefig("out.png", dpi=100)
